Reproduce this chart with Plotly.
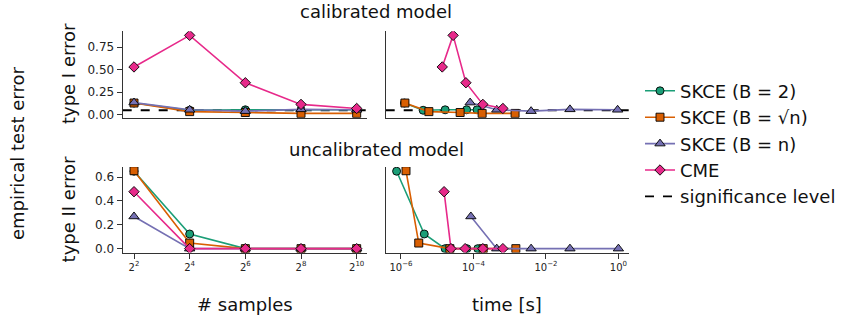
import math
import plotly.graph_objects as go

# ---------------- data ----------------
samples = [4, 16, 64, 256, 1024]
alpha = 0.05

names = ["SKCE (B = 2)", "SKCE (B = √n)", "SKCE (B = n)", "CME"]
colors = ["#1b9e77", "#d95f02", "#7570b3", "#e7298a"]
symbols = ["circle", "square", "triangle-up", "diamond"]

# calibrated model: type I error
typeI_skce2 = [0.13, 0.05, 0.055, 0.055, 0.055]
typeI_skcesqrt = [0.13, 0.035, 0.025, 0.015, 0.015]
typeI_skcen = [0.135, 0.055, 0.04, 0.06, 0.055]
typeI_cme = [0.53, 0.88, 0.355, 0.115, 0.07]

time_cal_skce2 = [1.25e-6, 4.1e-6, 1.66e-5, 6.5e-5, 1.26e-4]
time_cal_skcesqrt = [1.29e-6, 5.9e-6, 4.3e-5, 1.74e-4, 1.41e-3]
time_cal_skcen = [8.1e-5, 4.4e-4, 3.9e-3, 0.046, 0.95]
time_cal_cme = [1.38e-5, 2.75e-5, 6.2e-5, 1.82e-4, 6.5e-4]

# uncalibrated model: type II error
typeII_skce2 = [0.65, 0.123, 0.0, 0.0, 0.0]
typeII_skcesqrt = [0.654, 0.047, 0.0, 0.0, 0.0]
typeII_skcen = [0.27, 0.0, 0.0, 0.0, 0.0]
typeII_cme = [0.478, 0.0, 0.0, 0.0, 0.0]

time_unc_skce2 = [7.6e-7, 4.4e-6, 1.66e-5, 6.6e-5, 1.32e-4]
time_unc_skcesqrt = [1.38e-6, 3.1e-6, 2.24e-5, 1.86e-4, 1.48e-3]
time_unc_skcen = [8.5e-5, 4.4e-4, 3.9e-3, 0.046, 1.0]
time_unc_cme = [1.55e-5, 2.4e-5, 5.9e-5, 1.82e-4, 6.5e-4]

sample_ticks = [4, 16, 64, 256, 1024]
sample_ticktext = ["2<sup>2</sup>", "2<sup>4</sup>", "2<sup>6</sup>", "2<sup>8</sup>", "2<sup>10</sup>"]
time_ticks = [1e-6, 1e-4, 1e-2, 1]
time_ticktext = ["10<sup>−6</sup>", "10<sup>−4</sup>", "10<sup>−2</sup>", "10<sup>0</sup>"]

typeI = [typeI_skce2, typeI_skcesqrt, typeI_skcen, typeI_cme]
typeII = [typeII_skce2, typeII_skcesqrt, typeII_skcen, typeII_cme]
time_cal = [time_cal_skce2, time_cal_skcesqrt, time_cal_skcen, time_cal_cme]
time_unc = [time_unc_skce2, time_unc_skcesqrt, time_unc_skcen, time_unc_cme]

# ---------------- figure ----------------
W, H = 844, 326
FONT = "DejaVu Sans"
BIG = 18
fig = go.Figure()

def px_x(p):
    return p / W

def px_y(p):
    return 1 - p / H

def add_series(xs, ys, xa, ya, i, show):
    fig.add_trace(go.Scatter(
        x=xs, y=ys, xaxis=xa, yaxis=ya, mode="lines+markers",
        name=names[i], legendgroup=names[i], showlegend=show,
        line=dict(color=colors[i], width=1.6),
        marker=dict(symbol=symbols[i], color=colors[i], size=8 if symbols[i] != "triangle-up" else 9,
                    line=dict(color="black", width=0.9)),
    ))

for i in range(4):
    add_series(samples, typeI[i], "x", "y", i, True)
    add_series(time_cal[i], typeI[i], "x2", "y2", i, False)
    add_series(samples, typeII[i], "x3", "y3", i, False)
    add_series(time_unc[i], typeII[i], "x4", "y4", i, False)

# legend entry for significance level
fig.add_trace(go.Scatter(x=[None], y=[None], mode="lines", name="significance level",
                         legendgroup="sig",
                         line=dict(color="black", width=1.6, dash="dash"), xaxis="x", yaxis="y"))

for xr, yr in [("x", "y"), ("x2", "y2")]:
    fig.add_shape(type="line", xref=xr + " domain", yref=yr, x0=0, x1=1, y0=alpha, y1=alpha,
                  line=dict(color="black", width=1.8, dash="dash"), layer="below")

left_dom = [px_x(122.7), px_x(366.7)]
right_dom = [px_x(385.7), px_x(629.3)]
top_dom = [px_y(119.3), px_y(31.7)]
bot_dom = [px_y(255.7), px_y(169)]

line_col = "#333333"
axis_common = dict(showgrid=False, zeroline=False, showline=True, linecolor=line_col, linewidth=1.2,
                   tickcolor=line_col, ticklen=5, tickwidth=1.2)
yfont = dict(family=FONT, size=12, color="#222")
xfont = dict(family=FONT, size=10, color="#222")

samp_range = [math.log10(2 ** 1.594), math.log10(2 ** 10.36)]
time_range = [-6.42, 0.30]

fig.update_layout(
    width=W, height=H, margin=dict(l=0, r=0, t=0, b=0),
    paper_bgcolor="white", plot_bgcolor="white",
    font=dict(family=FONT, color="#111"),
    xaxis=dict(domain=left_dom, anchor="y", type="log", range=samp_range, ticks="",
               showticklabels=False, **axis_common),
    xaxis2=dict(domain=right_dom, anchor="y2", type="log", range=time_range, ticks="",
                showticklabels=False, **axis_common),
    xaxis3=dict(domain=left_dom, anchor="y3", type="log", range=samp_range, ticks="outside",
                tickvals=sample_ticks, ticktext=sample_ticktext, tickfont=xfont, **axis_common),
    xaxis4=dict(domain=right_dom, anchor="y4", type="log", range=time_range, ticks="outside",
                tickvals=time_ticks, ticktext=time_ticktext, tickfont=xfont, **axis_common),
    yaxis=dict(domain=top_dom, anchor="x", range=[-0.034, 0.925], ticks="outside",
               tickvals=[0, 0.25, 0.5, 0.75], tickformat=".2f", tickfont=yfont, **axis_common),
    yaxis2=dict(domain=top_dom, anchor="x2", range=[-0.034, 0.925], ticks="",
                showticklabels=False, **axis_common),
    yaxis3=dict(domain=bot_dom, anchor="x3", range=[-0.033, 0.686], ticks="outside",
                tickvals=[0, 0.2, 0.4, 0.6], tickformat=".1f", tickfont=yfont, **axis_common),
    yaxis4=dict(domain=bot_dom, anchor="x4", range=[-0.033, 0.686], ticks="",
                showticklabels=False, **axis_common),
    legend=dict(x=px_x(640), y=px_y(73.5), xanchor="left", yanchor="top",
                font=dict(family=FONT, size=BIG, color="#111"), tracegroupgap=0,
                itemwidth=30, bgcolor="rgba(0,0,0,0)"),
)

ann = dict(xref="paper", yref="paper", showarrow=False, xanchor="center", yanchor="middle",
           font=dict(family=FONT, size=BIG, color="#111"))
fig.add_annotation(text="calibrated model", x=px_x(376), y=px_y(12), **ann)
fig.add_annotation(text="uncalibrated model", x=px_x(376), y=px_y(151), **ann)
fig.add_annotation(text="type I error", x=px_x(68), y=px_y(75), textangle=-90, **ann)
fig.add_annotation(text="type II error", x=px_x(68), y=px_y(212), textangle=-90, **ann)
fig.add_annotation(text="empirical test error", x=px_x(17), y=px_y(155), textangle=-90, **ann)
fig.add_annotation(text="# samples", x=px_x(245), y=px_y(308), **ann)
fig.add_annotation(text="time [s]", x=px_x(507), y=px_y(308), **ann)

fig.write_html("out.html")
